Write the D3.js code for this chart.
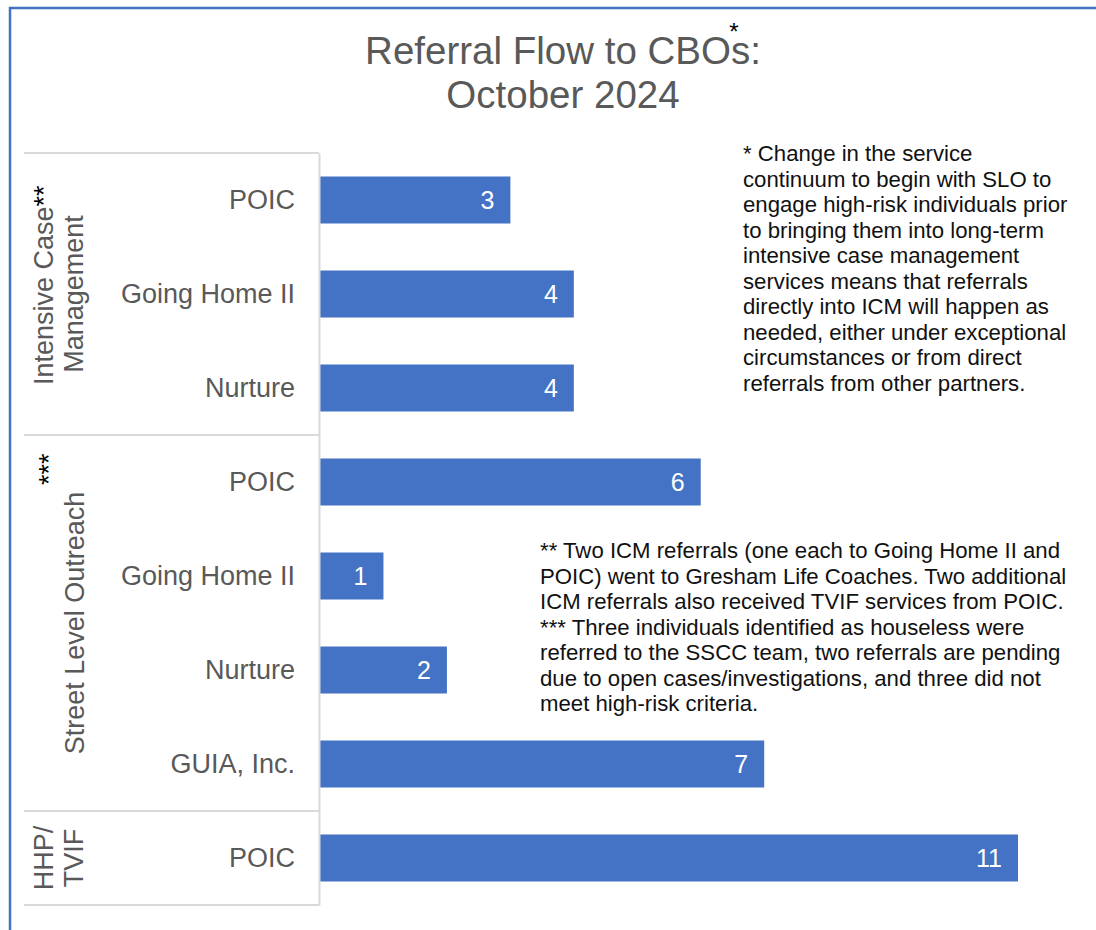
<!DOCTYPE html>
<html>
<head>
<meta charset="utf-8">
<script src="https://cdn.jsdelivr.net/npm/d3@7"></script>
<style>
  body { margin: 0; background: #fff; }
  svg { display: block; font-family: "Liberation Sans", Arial, sans-serif; }
</style>
</head>
<body>
<div id="chart"></div>
<script>
const width = 1096;
const height = 930;

// data
const groups = ["Intensive Case Management", "Street Level Outreach", "HHP/TVIF"];
const groupLines = [["Intensive Case", "Management"], ["Street Level Outreach"], ["HHP/", "TVIF"]];
const groupMarks = ["**", "***", ""];
const agencies = ["POIC", "Going Home II", "Nurture", "POIC", "Going Home II", "Nurture", "GUIA, Inc.", "POIC"];
const agencyGroup = [0, 0, 0, 1, 1, 1, 1, 2];
const referrals = [3, 4, 4, 6, 1, 2, 7, 11];

const titleLines = ["Referral Flow to CBOs:", "October 2024"];
const note1 = [
  "* Change in the service",
  "continuum to begin with SLO to",
  "engage high-risk individuals prior",
  "to bringing them into long-term",
  "intensive case management",
  "services means that referrals",
  "directly into ICM will happen as",
  "needed, either under exceptional",
  "circumstances or from direct",
  "referrals from other partners."
];
const note2 = [
  "** Two ICM referrals (one each to Going Home II and",
  "POIC) went to Gresham Life Coaches. Two additional",
  "ICM referrals also received TVIF services from POIC.",
  "*** Three individuals identified as houseless were",
  "referred to the SSCC team, two referrals are pending",
  "due to open cases/investigations, and three did not",
  "meet high-risk criteria."
];

const rows = agencies.map((name, i) => ({
  key: `${i}`,
  name,
  group: agencyGroup[i],
  value: referrals[i],
}));

const barColor = "#4472c4";
const textGray = "#595959";
const lineGray = "#d9d9d9";

const svg = d3
  .select("#chart")
  .append("svg")
  .attr("width", width)
  .attr("height", height);

// outer frame
svg
  .append("rect")
  .attr("x", 10)
  .attr("y", 8)
  .attr("width", width + 20)
  .attr("height", height + 20)
  .attr("fill", "none")
  .attr("stroke", barColor)
  .attr("stroke-width", 2.5);

const x = d3.scaleLinear().domain([0, 11]).range([320, 1018]);
const y = d3
  .scaleBand()
  .domain(rows.map((d) => d.key))
  .range([153, 905])
  .paddingInner(0.5)
  .paddingOuter(0.25);

const step = y.step();

// title
svg
  .append("g")
  .selectAll("text")
  .data(titleLines)
  .join("text")
  .attr("x", 563)
  .attr("y", (d, i) => 64 + i * 44)
  .attr("text-anchor", "middle")
  .attr("font-size", 38.5)
  .attr("fill", textGray)
  .text((d) => d);

// the * above "CBOs"
svg
  .append("text")
  .attr("x", 734)
  .attr("y", 40)
  .attr("text-anchor", "middle")
  .attr("font-size", 24)
  .attr("fill", "#000")
  .text("*");

// bars
svg
  .append("g")
  .selectAll("rect")
  .data(rows)
  .join("rect")
  .attr("x", x(0))
  .attr("y", (d) => y(d.key))
  .attr("width", (d) => x(d.value) - x(0))
  .attr("height", y.bandwidth())
  .attr("fill", barColor);

svg
  .append("g")
  .selectAll("text")
  .data(rows)
  .join("text")
  .attr("x", (d) => x(d.value) - 16)
  .attr("y", (d) => y(d.key) + y.bandwidth() / 2)
  .attr("dy", "0.36em")
  .attr("text-anchor", "end")
  .attr("font-size", 25)
  .attr("fill", "#fff")
  .text((d) => d.value);

// category axis
const axis = svg
  .append("g")
  .attr("transform", `translate(${x(0) - 1},0)`)
  .call(
    d3
      .axisLeft(y)
      .tickSize(0)
      .tickSizeOuter(0)
      .tickPadding(24)
      .tickFormat((k) => agencies[+k])
  );

axis.select(".domain").attr("stroke", lineGray).attr("stroke-width", 2);
axis
  .selectAll(".tick text")
  .attr("font-size", 27)
  .attr("font-family", "'Liberation Sans', Arial, sans-serif")
  .attr("fill", textGray);

// group bounds
const bounds = groups.map((g, gi) => {
  const keys = rows.filter((d) => d.group === gi).map((d) => d.key);
  const top = y(keys[0]) - (step - y.bandwidth()) / 2;
  const bottom = y(keys[keys.length - 1]) + y.bandwidth() + (step - y.bandwidth()) / 2;
  return { gi, top, bottom };
});

const sepYs = [bounds[0].top, ...bounds.map((b) => b.bottom)];
svg
  .append("g")
  .selectAll("line")
  .data(sepYs)
  .join("line")
  .attr("x1", 24)
  .attr("x2", x(0) - 1)
  .attr("y1", (d) => d)
  .attr("y2", (d) => d)
  .attr("stroke", lineGray)
  .attr("stroke-width", 2);

// group labels, rotated
const groupG = svg.append("g").attr("font-size", 27).attr("fill", textGray);

bounds.forEach((b) => {
  const lines = groupLines[b.gi];
  const cy = (b.top + b.bottom) / 2;
  lines.forEach((line, li) => {
    const bx = lines.length === 1 ? 84 : 53 + li * 30;
    const t = groupG
      .append("text")
      .attr("transform", `translate(${bx},${cy}) rotate(-90)`)
      .attr("text-anchor", "middle")
      .text(line);
    // ** sits right after the first line of ICM
    if (li === 0 && groupMarks[b.gi] === "**") {
      t.attr("text-anchor", "start").attr("x", -91);
      t.append("tspan").attr("fill", "#000").text(groupMarks[b.gi]);
    }
  });
});

// *** mark for street level outreach
svg
  .append("text")
  .attr("transform", `translate(58,${bounds[1].top + 50}) rotate(-90)`)
  .attr("font-size", 27)
  .attr("fill", "#000")
  .text(groupMarks[1]);

// footnotes
const notes = svg.append("g").attr("font-size", 22.2).attr("fill", "#111");

notes
  .selectAll(".n1")
  .data(note1)
  .join("text")
  .attr("class", "n1")
  .attr("x", 743)
  .attr("y", (d, i) => 161 + i * 25.5)
  .text((d) => d);

notes
  .selectAll(".n2")
  .data(note2)
  .join("text")
  .attr("class", "n2")
  .attr("x", 540)
  .attr("y", (d, i) => 558 + i * 25.5)
  .text((d) => d);
</script>
</body>
</html>
